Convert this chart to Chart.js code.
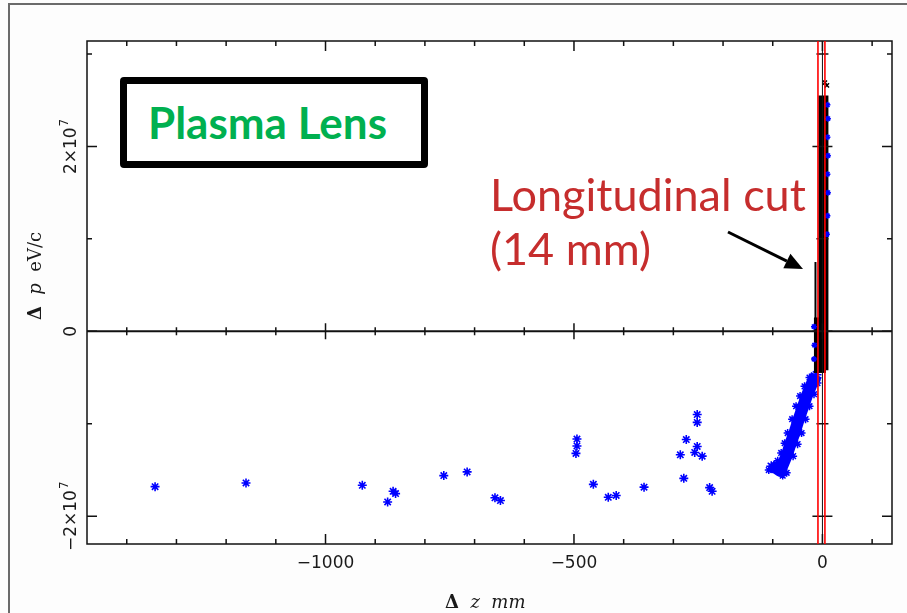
<!DOCTYPE html>
<html>
<head>
<meta charset="utf-8">
<script src="https://cdn.jsdelivr.net/npm/chart.js@4/dist/chart.umd.min.js"></script>
<style>
  html, body { margin: 0; padding: 0; background: #fff; }
  #wrap { position: relative; width: 907px; height: 613px; overflow: hidden; }
  #plot { position: absolute; left: 0; top: 0; }
  #lens {
    position: absolute; left: 120px; top: 77px; width: 308px; height: 91px;
    box-sizing: border-box; border: 7px solid #000; border-radius: 4px; background: #fff;
  }
  #lensText {
    position: absolute; left: 148px; top: 100px; font: bold 44px Lato, sans-serif;
    line-height: 44px; color: #00b050; white-space: nowrap;
  }
  #cutText {
    position: absolute; left: 490px; top: 167px; font: 45px Lato, sans-serif;
    line-height: 54px; color: #c62d2d; white-space: nowrap;
  }
</style>
</head>
<body>
<div id="wrap">
  <canvas id="plot" width="907" height="613"></canvas>
  <div id="lens"></div>
  <div id="lensText">Plasma Lens</div>
  <div id="cutText">Longitudinal cut<br>(14 mm)</div>
</div>
<script>
// axis ranges (delta z in mm, delta p in eV/c)
const zMin = -1480, zMax = 140;
const pMin = -2.3e7, pMax = 3.14e7;

const xMajor = [-1000, -500, 0];
const xLabels = ['\u22121000', '\u2212500', '0'];
const xMinorStep = 100;
const yMajor = [-2e7, 0, 2e7];
const yLabels = [['\u22122\u00d710', '7'], ['0', ''], ['2\u00d710', '7']];
const yMinorStep = 1e7;

// longitudinal cut edges
const cutZ = [-9, 5];

// isolated particles
const strayZ = [-1343, -1160, -926, -875, -864, -859, -762, -715, -659, -648, -496, -494, -494, -461, -431, -415, -359, -286, -279, -274, -257, -252, -252, -252, -242, -227, -222];
const strayP = [-1.68e7, -1.64e7, -1.665e7, -1.845e7, -1.73e7, -1.755e7, -1.56e7, -1.52e7, -1.80e7, -1.83e7, -1.32e7, -1.24e7, -1.165e7, -1.655e7, -1.795e7, -1.775e7, -1.685e7, -1.335e7, -1.59e7, -1.17e7, -1.31e7, -0.90e7, -0.985e7, -1.245e7, -1.35e7, -1.69e7, -1.73e7];

// blue tail leading into the bunch
const bandZ = [-103, -93, -85, -78, -71, -64, -56, -48, -39, -32, -22, -12];
const bandP = [-1.46e7, -1.48e7, -1.51e7, -1.42e7, -1.33e7, -1.21e7, -1.095e7, -0.955e7, -0.815e7, -0.705e7, -0.575e7, -0.47e7];
const bandLeftZ = [-108, -101, -90, -83, -76, -70, -61, -53, -45, -36, -26];
const bandLeftP = [-1.50e7, -1.46e7, -1.40e7, -1.315e7, -1.21e7, -1.10e7, -0.95e7, -0.81e7, -0.70e7, -0.595e7, -0.50e7];
const bandRightZ = [-80, -72, -59, -50, -42, -34, -26, -17, -10];
const bandRightP = [-1.56e7, -1.53e7, -1.35e7, -1.22e7, -1.10e7, -0.95e7, -0.81e7, -0.68e7, -0.56e7];

// core of the bunch (black)
const coreZ = [2, 2];
const coreP = [-0.42e7, 2.55e7];
const baseZ = [-5, -5];
const baseP = [-0.45e7, 0.15e7];
const tailZ = [-14, -14];
const tailP = [-0.1e7, 0.75e7];
const topZ = [5, 9];
const topP = [2.69e7, 2.66e7];
const coreBlueZ = [10, 11, 10, 11, 10, 11, 10, 9, -17, -16, -17];
const coreBlueP = [2.45e7, 2.3e7, 2.1e7, 1.9e7, 1.7e7, 1.5e7, 1.25e7, 1.05e7, 0.05e7, -0.15e7, -0.3e7];

const pts = (zs, ps) => zs.map((z, i) => ({ x: z, y: ps[i] }));

const blue = '#0000ff';

const axesPlugin = {
  id: 'axesPlugin',
  beforeDraw(chart) {
    const c = chart.ctx, a = chart.chartArea;
    c.save();
    c.fillStyle = '#fdfdfd';
    c.fillRect(0, 0, chart.width, chart.height);
    c.fillStyle = '#fff';
    c.fillRect(a.left, a.top, a.right - a.left, a.bottom - a.top);
    c.strokeStyle = '#6b6b6b';
    c.lineWidth = 2;
    c.beginPath();
    c.moveTo(9, chart.height);
    c.lineTo(9, 4);
    c.lineTo(chart.width, 4);
    c.stroke();
    c.restore();
  },
  afterDatasetsDraw(chart) {
    const c = chart.ctx, a = chart.chartArea;
    const xs = chart.scales.x, ys = chart.scales.y;
    const x0 = xs.getPixelForValue(0), y0 = ys.getPixelForValue(0);
    c.save();
    c.strokeStyle = '#111';
    // zero axes
    c.lineWidth = 2;
    c.beginPath(); c.moveTo(a.left, y0); c.lineTo(a.right, y0); c.stroke();
    c.lineWidth = 1;
    c.beginPath(); c.moveTo(x0, a.top); c.lineTo(x0, a.bottom); c.stroke();
    // frame
    c.lineWidth = 1.5;
    c.strokeRect(a.left, a.top, a.right - a.left, a.bottom - a.top);
    // x ticks
    c.lineWidth = 1.5;
    for (let v = Math.ceil(zMin / xMinorStep) * xMinorStep; v <= zMax; v += xMinorStep) {
      const px = xs.getPixelForValue(v);
      const big = xMajor.includes(v);
      const L = big ? 10 : 5;
      c.beginPath();
      c.moveTo(px, a.bottom); c.lineTo(px, a.bottom - L);
      c.moveTo(px, a.top); c.lineTo(px, a.top + L);
      c.moveTo(px, y0 - (big ? 8 : 4)); c.lineTo(px, y0 + (big ? 8 : 4));
      c.stroke();
    }
    for (let v = Math.ceil(pMin / yMinorStep) * yMinorStep; v <= pMax; v += yMinorStep) {
      const py = ys.getPixelForValue(v);
      const big = yMajor.includes(v);
      const L = big ? 10 : 5;
      c.beginPath();
      c.moveTo(a.left, py); c.lineTo(a.left + L, py);
      c.moveTo(a.right, py); c.lineTo(a.right - L, py);
      c.moveTo(x0 - (big ? 10 : 6), py); c.lineTo(x0 + (big ? 10 : 6), py);
      c.stroke();
    }
    // cut lines
    c.strokeStyle = '#ff0000';
    c.lineWidth = 1.6;
    cutZ.forEach(z => {
      const px = xs.getPixelForValue(z);
      c.beginPath(); c.moveTo(px, a.top); c.lineTo(px, a.bottom); c.stroke();
    });
    c.restore();
  },
  afterDraw(chart) {
    const c = chart.ctx;
    const xs = chart.scales.x, ys = chart.scales.y;
    c.save();
    c.fillStyle = '#1a1a1a';
    // x tick labels
    c.font = '17px "DejaVu Sans"';
    c.textAlign = 'center';
    c.textBaseline = 'alphabetic';
    xMajor.forEach((v, i) => c.fillText(xLabels[i], xs.getPixelForValue(v), 568));
    // y tick labels, rotated
    c.textAlign = 'left';
    yMajor.forEach((v, i) => {
      const [main, sup] = yLabels[i];
      c.save();
      c.translate(76, ys.getPixelForValue(v));
      c.rotate(-Math.PI / 2);
      c.font = '17px "DejaVu Sans"';
      const w1 = c.measureText(main).width;
      c.font = '12px "DejaVu Sans"';
      const w2 = sup ? c.measureText(sup).width + 1 : 0;
      const s = -(w1 + w2) / 2;
      c.font = '17px "DejaVu Sans"';
      c.fillText(main, s, 0);
      if (sup) { c.font = '12px "DejaVu Sans"'; c.fillText(sup, s + w1 + 1, -8); }
      c.restore();
    });
    // axis titles
    const run = (pieces, x, y) => {
      let cx = x;
      pieces.forEach(p => { c.font = p[1]; c.fillText(p[0], cx, y); cx += c.measureText(p[0]).width; });
    };
    const width = pieces => pieces.reduce((s, p) => { c.font = p[1]; return s + c.measureText(p[0]).width; }, 0);
    const xTitle = [['\u0394', 'bold 18px "DejaVu Serif"'], ['  ', '18px "DejaVu Serif"'], ['z', 'italic 18px "DejaVu Serif"'], ['  ', '18px "DejaVu Serif"'], ['mm', 'italic 18px "DejaVu Serif"']];
    run(xTitle, 445, 608);
    const yTitle = [['\u0394', 'bold 18px "DejaVu Serif"'], ['  ', '18px "DejaVu Serif"'], ['p', 'italic 18px "DejaVu Serif"'], ['  ', '18px "DejaVu Serif"'], ['eV/c', '18px "DejaVu Serif"']];
    c.save();
    c.translate(41, 276);
    c.rotate(-Math.PI / 2);
    run(yTitle, -width(yTitle) / 2, 0);
    c.restore();
    // arrow
    const x1 = 728, y1 = 232, x2 = 803, y2 = 269;
    const ang = Math.atan2(y2 - y1, x2 - x1);
    const hl = 18, hw = 8;
    const bx = x2 - hl * Math.cos(ang), by = y2 - hl * Math.sin(ang);
    c.strokeStyle = '#000'; c.fillStyle = '#000'; c.lineWidth = 3;
    c.beginPath(); c.moveTo(x1, y1); c.lineTo(bx, by); c.stroke();
    c.beginPath();
    c.moveTo(x2, y2);
    c.lineTo(bx + hw * Math.sin(ang), by - hw * Math.cos(ang));
    c.lineTo(bx - hw * Math.sin(ang), by + hw * Math.cos(ang));
    c.closePath(); c.fill();
    c.restore();
  }
};

new Chart(document.getElementById('plot'), {
  type: 'scatter',
  data: {
    datasets: [
      { data: pts(coreBlueZ, coreBlueP), pointStyle: 'star', pointRadius: 3, borderColor: blue, pointBorderWidth: 1.5, order: 0 },
      { data: pts(topZ, topP), pointStyle: 'crossRot', pointRadius: 3, borderColor: '#000', pointBorderWidth: 1.5, order: 1 },
      { data: pts(coreZ, coreP), showLine: true, borderColor: '#000', borderWidth: 10, pointRadius: 0, order: 2 },
      { data: pts(baseZ, baseP), showLine: true, borderColor: '#000', borderWidth: 12, pointRadius: 0, order: 3 },
      { data: pts(tailZ, tailP), showLine: true, borderColor: '#000', borderWidth: 2, pointRadius: 0, order: 4 },
      { data: pts(bandZ, bandP), showLine: true, borderColor: blue, borderWidth: 12, borderJoinStyle: 'round', pointStyle: 'star', pointRadius: 5, pointBorderColor: blue, pointBorderWidth: 1.5, order: 5 },
      { data: pts(bandLeftZ, bandLeftP), pointStyle: 'star', pointRadius: 4, borderColor: blue, pointBorderWidth: 1.5, order: 6 },
      { data: pts(bandRightZ, bandRightP), pointStyle: 'star', pointRadius: 4, borderColor: blue, pointBorderWidth: 1.5, order: 7 },
      { data: pts(strayZ, strayP), pointStyle: 'star', pointRadius: 4.5, borderColor: blue, pointBorderWidth: 1.6, order: 8 }
    ]
  },
  options: {
    responsive: false,
    animation: false,
    layout: { padding: { left: 87, right: 15, top: 41, bottom: 69 } },
    plugins: { legend: { display: false }, tooltip: { enabled: false } },
    scales: {
      x: { type: 'linear', min: zMin, max: zMax, display: false },
      y: { type: 'linear', min: pMin, max: pMax, display: false }
    }
  },
  plugins: [axesPlugin]
});
</script>
</body>
</html>
